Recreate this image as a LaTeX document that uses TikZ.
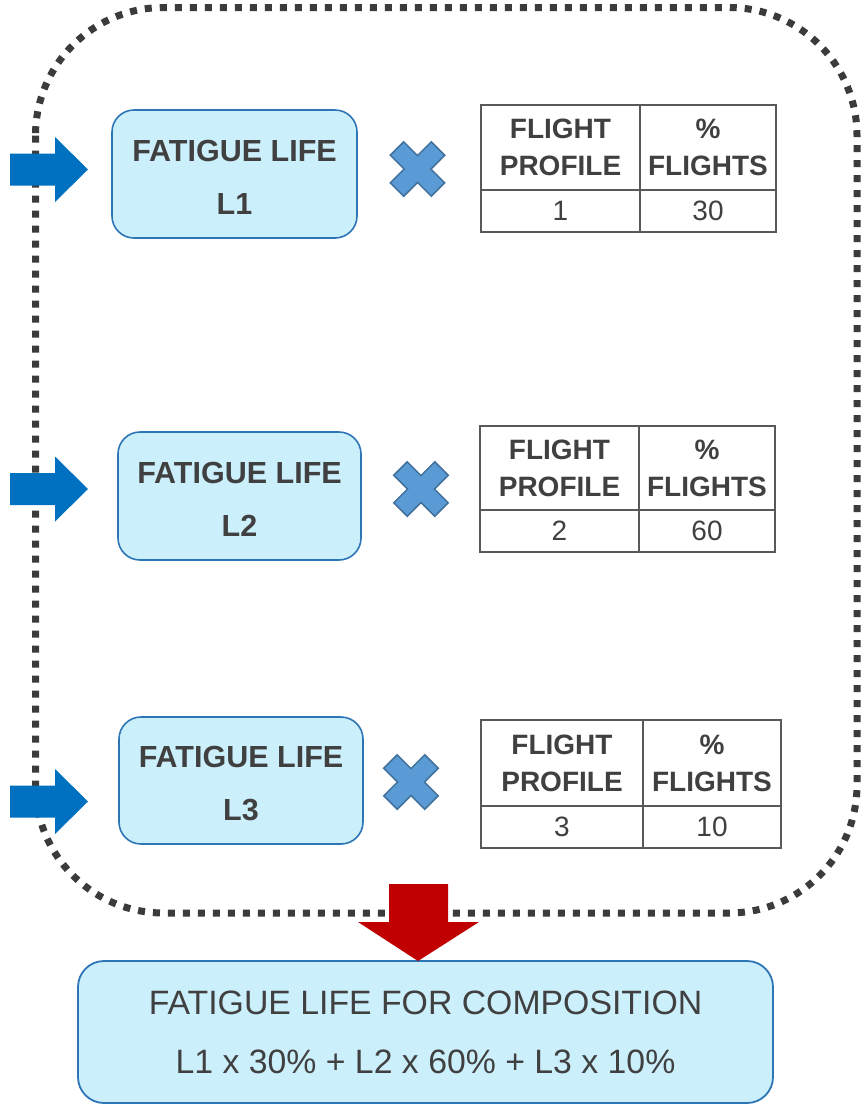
\documentclass[tikz,border=0pt]{standalone}
\usepackage{fontspec}
\setmainfont{Liberation Sans}
\definecolor{boxfill}{HTML}{CCEFFC}
\definecolor{boxline}{HTML}{2E75B6}
\definecolor{txt}{HTML}{404040}
\definecolor{dotcol}{HTML}{3B3B3B}
\definecolor{inblue}{HTML}{0070C0}
\definecolor{outred}{HTML}{C00000}
\definecolor{crossfill}{HTML}{5B9BD5}
\definecolor{crossline}{HTML}{41719C}
\definecolor{gridcol}{HTML}{595959}

\tikzset{
  lifebox/.style={draw=boxline, fill=boxfill, line width=1.6pt, rounded corners=22pt,
    align=center, text=txt, inner sep=0pt,
    font=\fontsize{30.5}{53}\selectfont\bfseries},
  resultbox/.style={draw=boxline, fill=boxfill, line width=1.8pt, rounded corners=26pt,
    align=center, text=txt, inner sep=0pt,
    font=\fontsize{33.8}{59}\selectfont},
  hcell/.style={draw=gridcol, line width=2pt, align=center, text=txt, inner sep=0pt,
    font=\fontsize{28}{37}\selectfont\bfseries},
  dcell/.style={draw=gridcol, line width=2pt, text=txt, inner sep=0pt,
    font=\fontsize{28}{34}\selectfont},
  crossmark/.style={fill=crossfill, draw=crossline, line width=1.5pt, line join=miter},
  border/.style={draw=dotcol, line width=7pt, dash pattern=on 7pt off 8pt, rounded corners=128pt},
}

% table of one flight profile: name, x0, x1, x2, y0, y1, y2, profile, share
\newcommand\fltable[9]{%
  \node[hcell, minimum width={(#3-#2)*1pt}, minimum height={(#6-#5)*1pt}]
    (#1h1) at ({(#2+#3)/2},{(#5+#6)/2}) {FLIGHT\\PROFILE};
  \node[hcell, minimum width={(#4-#3)*1pt}, minimum height={(#6-#5)*1pt}]
    (#1h2) at ({(#3+#4)/2},{(#5+#6)/2}) {\%\\FLIGHTS};
  \node[dcell, minimum width={(#3-#2)*1pt}, minimum height={(#7-#6)*1pt}]
    (#1d1) at ({(#2+#3)/2},{(#6+#7)/2}) {#8};
  \node[dcell, minimum width={(#4-#3)*1pt}, minimum height={(#7-#6)*1pt}]
    (#1d2) at ({(#3+#4)/2},{(#6+#7)/2}) {#9};
}

% multiplication sign centred at (x,y)
\newcommand\timesmark[2]{%
  \draw[crossmark, shift={(#1,#2)}, rotate=45]
    (9.5,9.5) -- (29,9.5) -- (29,-9.5) -- (9.5,-9.5) -- (9.5,-29) -- (-9.5,-29)
    -- (-9.5,-9.5) -- (-29,-9.5) -- (-29,9.5) -- (-9.5,9.5) -- (-9.5,29) -- (9.5,29) -- cycle;
}

% block arrow pointing right, tip height y
\newcommand\inarrow[1]{%
  \fill[inblue] (10,{#1-16}) -- (55,{#1-16}) -- (55,{#1-32.5}) -- (88,#1)
    -- (55,{#1+32.5}) -- (55,{#1+16}) -- (10,{#1+16}) -- cycle;
}

% two-line label of a fatigue life box, first line lifted a little
\newcommand\lifetext[1]{\rule{0pt}{28pt}FATIGUE LIFE\\#1}

\begin{document}
\begin{tikzpicture}[x=1pt,y=-1pt]
  \useasboundingbox (0,0) rectangle (863,1104);
  \fill[white] (0,0) rectangle (863,1104);

  % grouping frame
  \draw[border] (35.5,7.5) rectangle (857,913);

  % inputs
  \inarrow{169.5}
  \inarrow{489}
  \inarrow{801.5}

  % fatigue lives
  \node[lifebox, minimum width=245pt, minimum height=128pt] (life1) at (234.5,174) {\lifetext{L1}};
  \node[lifebox, minimum width=243pt, minimum height=128pt] (life2) at (239.5,496) {\lifetext{L2}};
  \node[lifebox, minimum width=244pt, minimum height=127pt] (life3) at (241,780.5) {\lifetext{L3}};

  % weighting signs
  \timesmark{417.5}{169}
  \timesmark{421}{489}
  \timesmark{411}{782}

  % flight profile tables
  \fltable{ta}{481}{640}{776}{105}{190}{232}{1}{30}
  \fltable{tb}{480}{639}{775}{426}{510}{552}{2}{60}
  \fltable{tc}{481}{643}{781}{720}{806}{848}{3}{10}

  % weighted result
  \node[resultbox, minimum width=695pt, minimum height=142pt] (total) at (425.5,1032)
    {FATIGUE LIFE FOR COMPOSITION\\L1 x 30\% + L2 x 60\% + L3 x 10\%};

  \fill[outred] (389,884) -- (448,884) -- (448,922) -- (479,922) -- (418,961)
    -- (358,922) -- (389,922) -- cycle;
\end{tikzpicture}
\end{document}
